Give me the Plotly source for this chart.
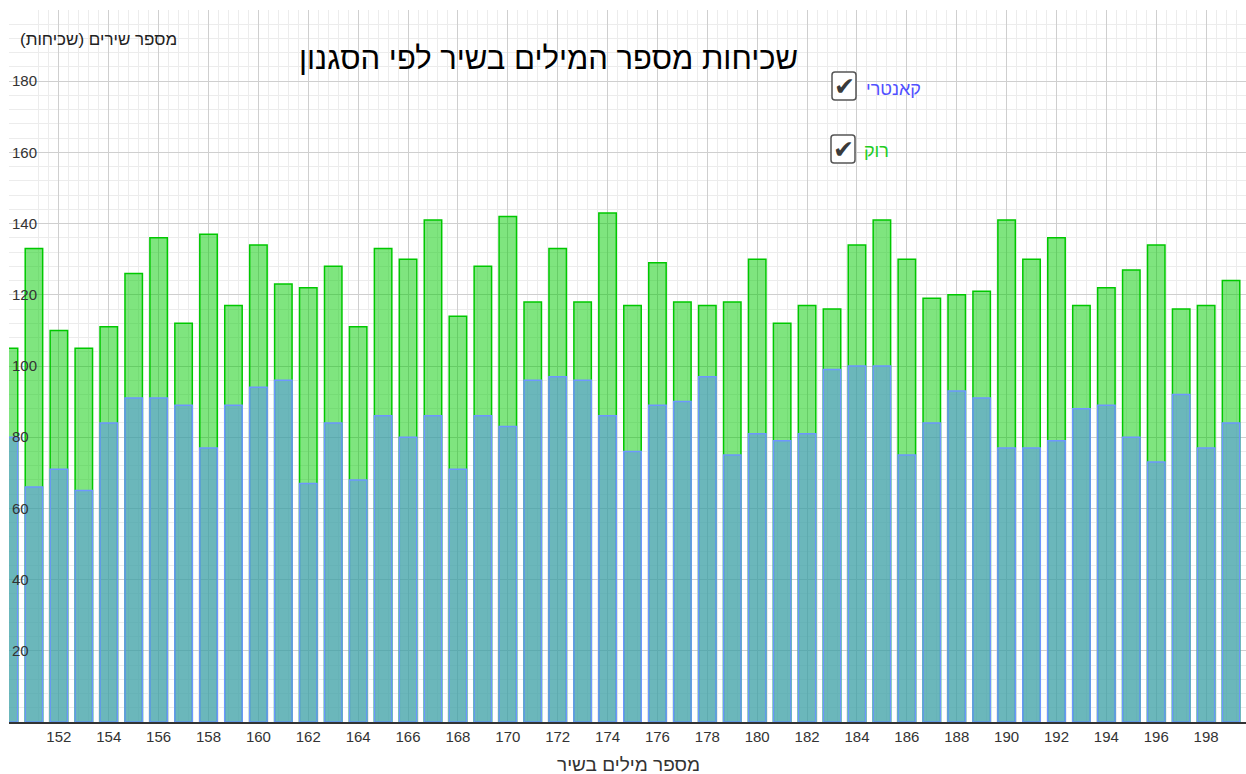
import re
import plotly.graph_objects as go

word_counts = list(range(150, 200))
rock = [105, 133, 110, 105, 111, 126, 136, 112, 137, 117,
        134, 123, 122, 128, 111, 133, 130, 141, 114, 128,
        142, 118, 133, 118, 143, 117, 129, 118, 117, 118,
        130, 112, 117, 116, 134, 141, 130, 119, 120, 121,
        141, 130, 136, 117, 122, 127, 134, 116, 117, 124]
country = [80, 66, 71, 65, 84, 91, 91, 89, 77, 89,
           94, 96, 67, 84, 68, 86, 80, 86, 71, 86,
           83, 96, 97, 96, 86, 76, 89, 90, 97, 75,
           81, 79, 81, 99, 100, 100, 75, 84, 93, 91,
           77, 77, 79, 88, 89, 80, 73, 92, 77, 84]
x_ticks = list(range(152, 200, 2))
y_ticks = list(range(20, 200, 20))

title_text = "שכיחות מספר המילים בשיר לפי הסגנון"
x_title = "מספר מילים בשיר"
y_title = "מספר שירים (שכיחות)"
legend_country = "קאנטרי"
legend_rock = "רוק"

W, H = 1246, 774
ML, MR, MT, MB = 9, 0, 10, 52
PW, PH = W - ML - MR, H - MT - MB

def px(xp):
    return (xp - ML) / PW

def py(yp):
    return (H - MB - yp) / PH

HEB = "Liberation Sans, Arial, sans-serif"

fig = go.Figure()
fig.add_trace(go.Bar(x=word_counts, y=rock, width=0.7, name=legend_rock,
                     marker=dict(color="rgba(0,204,0,0.5)",
                                 line=dict(color="rgb(0,200,0)", width=1.5))))
fig.add_trace(go.Bar(x=word_counts, y=country, width=0.7, name=legend_country,
                     marker=dict(color="rgba(88,138,248,0.5)",
                                 line=dict(color="rgb(110,150,255)", width=1.5))))

fig.update_layout(
    width=W, height=H, barmode="overlay", showlegend=False,
    margin=dict(l=ML, r=MR, t=MT, b=MB),
    paper_bgcolor="white", plot_bgcolor="white",
    font=dict(family=HEB, color="#333"),
    xaxis=dict(range=[150, 150 + PW / 24.94], tickvals=x_ticks,
               ticktext=[str(v) for v in x_ticks],
               showgrid=True, gridcolor="#cfcfcf", gridwidth=1,
               minor=dict(dtick=0.4, tick0=150, showgrid=True, gridcolor="#ececec"),
               showline=True, linecolor="#333", linewidth=1.5,
               zeroline=False, ticks="", tickfont=dict(size=15, color="#333")),
    yaxis=dict(range=[0, 200], tickvals=y_ticks + [200],
               ticktext=[str(v) for v in y_ticks] + [""],
               showgrid=True, gridcolor="#cfcfcf", gridwidth=1,
               minor=dict(dtick=4, tick0=0, showgrid=True, gridcolor="#ececec"),
               zeroline=False, ticks="", ticklabelposition="inside",
               tickfont=dict(size=15, color="#333")),
)

ann = []
ann.append(dict(x=px(548), y=py(58), xref="paper", yref="paper", text=title_text,
                showarrow=False, font=dict(size=31, color="black", family=HEB),
                xanchor="center", yanchor="middle"))
ann.append(dict(x=px(98), y=py(39), xref="paper", yref="paper", text=y_title,
                showarrow=False, font=dict(size=17, color="#222", family=HEB),
                xanchor="center", yanchor="middle"))
ann.append(dict(x=px(628), y=py(765), xref="paper", yref="paper", text=x_title,
                showarrow=False, font=dict(size=19, color="#333", family=HEB),
                xanchor="center", yanchor="middle"))

shapes = []
def checkbox(x0, y0, x1, y1, r=3):
    a0, a1 = px(x0), px(x1)
    b0, b1 = py(y0), py(y1)
    path = (f"M {x0+r},{y0} L {x1-r},{y0} Q {x1},{y0} {x1},{y0+r} "
            f"L {x1},{y1-r} Q {x1},{y1} {x1-r},{y1} L {x0+r},{y1} "
            f"Q {x0},{y1} {x0},{y1-r} L {x0},{y0+r} Q {x0},{y0} {x0+r},{y0} Z")
    def conv(m):
        xx, yy = float(m.group(1)), float(m.group(2))
        return f"{px(xx):.5f},{py(yy):.5f}"
    path = re.sub(r"([\d.]+),([\d.]+)", conv, path)
    shapes.append(dict(type="path", path=path, xref="paper", yref="paper",
                       line=dict(color="#555", width=1.5), fillcolor="white"))
    ann.append(dict(x=(a0 + a1) / 2, y=(b0 + b1) / 2, xref="paper", yref="paper",
                    text="✔", showarrow=False,
                    font=dict(size=25, color="#3a3a3a", family="DejaVu Sans"),
                    xanchor="center", yanchor="middle"))

checkbox(832, 72, 856, 100)
checkbox(831, 135, 855, 163)
ann.append(dict(x=px(864), y=py(89), xref="paper", yref="paper", text=legend_country,
                showarrow=False, font=dict(size=18, color="#5050ff", family=HEB),
                xanchor="left", yanchor="middle"))
ann.append(dict(x=px(862), y=py(151), xref="paper", yref="paper", text=legend_rock,
                showarrow=False, font=dict(size=18, color="#22cc22", family=HEB),
                xanchor="left", yanchor="middle"))

fig.update_layout(annotations=ann, shapes=shapes)
fig.write_html("out.html", config={"displayModeBar": False},
               post_script="document.body.style.margin='0';document.body.style.overflow='hidden';")
